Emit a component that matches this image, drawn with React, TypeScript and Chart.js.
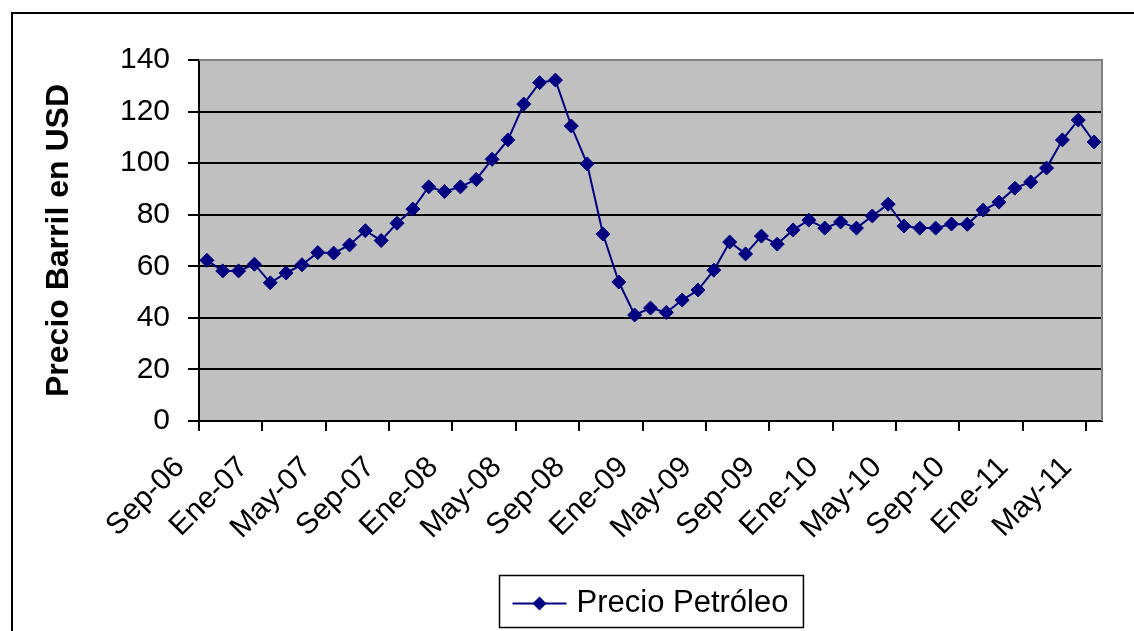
import React, { useEffect, useRef } from "react";
import { Chart, registerables } from "chart.js";

Chart.register(...registerables);

const months: string[] = [
  "Sep-06", "Oct-06", "Nov-06", "Dic-06",
  "Ene-07", "Feb-07", "Mar-07", "Abr-07", "May-07", "Jun-07", "Jul-07", "Ago-07", "Sep-07", "Oct-07", "Nov-07", "Dic-07",
  "Ene-08", "Feb-08", "Mar-08", "Abr-08", "May-08", "Jun-08", "Jul-08", "Ago-08", "Sep-08", "Oct-08", "Nov-08", "Dic-08",
  "Ene-09", "Feb-09", "Mar-09", "Abr-09", "May-09", "Jun-09", "Jul-09", "Ago-09", "Sep-09", "Oct-09", "Nov-09", "Dic-09",
  "Ene-10", "Feb-10", "Mar-10", "Abr-10", "May-10", "Jun-10", "Jul-10", "Ago-10", "Sep-10", "Oct-10", "Nov-10", "Dic-10",
  "Ene-11", "Feb-11", "Mar-11", "Abr-11", "May-11",
];

const prices: number[] = [
  62.3, 58.2, 58.2, 60.8,
  53.6, 57.4, 60.6, 65.3, 65.1, 68.3, 73.8, 70.0, 76.7, 82.2, 90.8, 89.0,
  90.8, 93.7, 101.5, 109.0, 122.9, 131.2, 132.2, 114.4, 99.7, 72.5, 53.9, 41.1,
  43.8, 42.1, 46.9, 50.8, 58.5, 69.4, 64.8, 71.7, 68.6, 74.1, 77.9, 74.8,
  77.2, 74.8, 79.5, 84.1, 75.6, 74.8, 74.8, 76.4, 76.3, 81.8, 84.9, 90.3,
  92.7, 98.1, 109.0, 116.7, 108.2,
];

const seriesLabel = "Precio Petróleo";
const yTitle = "Precio Barril en USD";
const tickEvery = 4;

const FONT = '"Liberation Sans", Arial, sans-serif';
const NAVY = "#000080";

const framePlugin = {
  id: "frame",
  beforeDraw(chart: any) {
    const { ctx, chartArea } = chart;
    ctx.save();
    ctx.fillStyle = "#ffffff";
    ctx.fillRect(0, 0, chart.width, chart.height);
    ctx.fillStyle = "#C0C0C0";
    ctx.fillRect(chartArea.left, chartArea.top, chartArea.right - chartArea.left, chartArea.bottom - chartArea.top);
    // outer chart border
    ctx.strokeStyle = "#000000";
    ctx.lineWidth = 2;
    ctx.beginPath();
    ctx.moveTo(12, chart.height + 5);
    ctx.lineTo(12, 13);
    ctx.lineTo(chart.width + 5, 13);
    ctx.stroke();
    ctx.restore();
  },
  beforeDatasetsDraw(chart: any) {
    const { ctx, chartArea } = chart;
    ctx.save();
    ctx.strokeStyle = "#808080";
    ctx.lineWidth = 2;
    ctx.beginPath();
    ctx.moveTo(chartArea.left, chartArea.top);
    ctx.lineTo(chartArea.right, chartArea.top);
    ctx.lineTo(chartArea.right, chartArea.bottom);
    ctx.stroke();
    ctx.restore();
  },
  afterDraw(chart: any) {
    const { ctx, chartArea } = chart;
    const ds = chart.data.datasets[0];
    ctx.save();
    ctx.font = `31px ${FONT}`;
    const tw = ctx.measureText(ds.label).width;
    const w = 13 + 54 + 10 + tw + 15;
    const h = 52;
    const cx = (chartArea.left + chartArea.right) / 2;
    const x = Math.round(cx - w / 2) + 0.5;
    const y = 575.5;
    ctx.fillStyle = "#ffffff";
    ctx.fillRect(x, y, w, h);
    ctx.strokeStyle = "#000000";
    ctx.lineWidth = 1.5;
    ctx.strokeRect(x, y, w, h);
    const ly = y + 28;
    ctx.strokeStyle = ds.borderColor;
    ctx.lineWidth = 2;
    ctx.beginPath();
    ctx.moveTo(x + 13, ly);
    ctx.lineTo(x + 67, ly);
    ctx.stroke();
    ctx.fillStyle = ds.pointBackgroundColor;
    const r = 7;
    const mx = x + 40;
    ctx.beginPath();
    ctx.moveTo(mx - r, ly);
    ctx.lineTo(mx, ly - r);
    ctx.lineTo(mx + r, ly);
    ctx.lineTo(mx, ly + r);
    ctx.closePath();
    ctx.fill();
    ctx.fillStyle = "#000000";
    ctx.textAlign = "left";
    ctx.textBaseline = "middle";
    ctx.fillText(ds.label, x + 77, ly);
    ctx.restore();
  },
};

export default function App() {
  const ref = useRef<HTMLCanvasElement | null>(null);

  useEffect(() => {
    if (!ref.current) return;
    const chart = new Chart(ref.current, {
      type: "line",
      data: {
        datasets: [
          {
            label: seriesLabel,
            data: prices.map((v, i) => ({ x: i + 0.5, y: v })),
            borderColor: NAVY,
            backgroundColor: NAVY,
            borderWidth: 2,
            pointStyle: "rectRot",
            pointRadius: 7,
            pointBackgroundColor: NAVY,
            pointBorderColor: NAVY,
            pointBorderWidth: 1,
            tension: 0,
          },
        ],
      },
      options: {
        animation: false,
        responsive: false,
        layout: { padding: { top: 60, right: 32, left: 0, bottom: 0 } },
        plugins: {
          legend: { display: false },
          tooltip: { enabled: false },
        },
        scales: {
          x: {
            type: "linear",
            min: 0,
            max: months.length,
            afterFit: (scale: any) => {
              scale.height = 210;
            },
            afterBuildTicks: (scale: any) => {
              const t: any[] = [];
              for (let v = 0; v < months.length; v += tickEvery) t.push({ value: v });
              scale.ticks = t;
            },
            ticks: {
              autoSkip: false,
              minRotation: 45,
              maxRotation: 45,
              padding: 19,
              labelOffset: -19,
              color: "#000000",
              font: { family: FONT, size: 30 },
              callback: (v: any) => months[Math.round(Number(v))] ?? "",
            },
            grid: {
              drawOnChartArea: false,
              drawTicks: true,
              tickLength: 10,
              tickColor: "#000000",
              tickWidth: 2,
              color: "#000000",
              lineWidth: 2,
            },
            border: { display: true, color: "#000000", width: 2 },
          },
          y: {
            min: 0,
            max: 140,
            afterFit: (scale: any) => {
              scale.width = 199;
            },
            ticks: {
              stepSize: 20,
              padding: 18,
              color: "#000000",
              font: { family: FONT, size: 30 },
            },
            grid: {
              color: (c: any) => (c.tick && c.tick.value === 140 ? "#808080" : "#000000"),
              lineWidth: 2,
              tickLength: 11,
              tickColor: "#000000",
              tickWidth: 2,
            },
            border: { display: true, color: "#000000", width: 2 },
            title: {
              display: true,
              text: yTitle,
              color: "#000000",
              font: { family: FONT, size: 32, weight: "bold" },
              padding: { top: 40, bottom: 0 },
            },
          },
        },
      },
      plugins: [framePlugin],
    });
    return () => chart.destroy();
  }, []);

  return (
    <div style={{ position: "fixed", left: 0, top: 0, width: 1134, height: 631, background: "#fff" }}>
      <canvas ref={ref} width={1134} height={631} style={{ display: "block" }} />
    </div>
  );
}
